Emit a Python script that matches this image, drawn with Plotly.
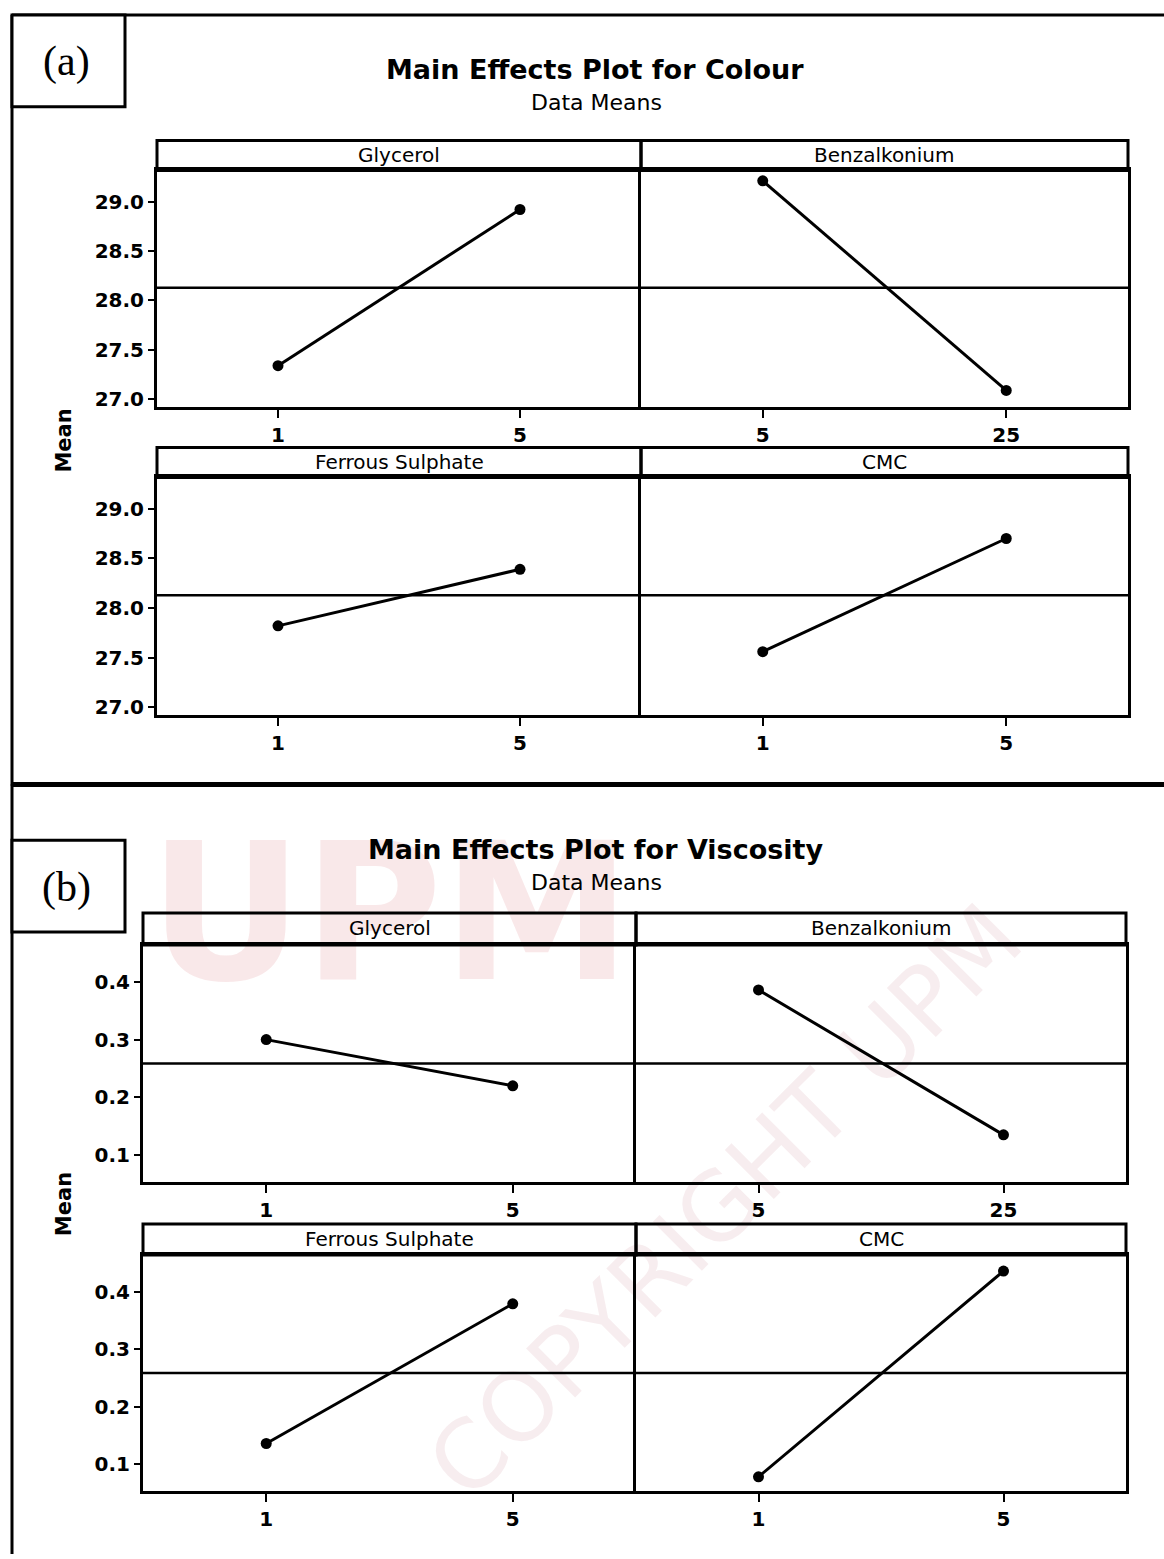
import plotly.graph_objects as go

W, H = 1164, 1559

# ---------------- data ----------------
factors = ["Glycerol", "Benzalkonium", "Ferrous Sulphate", "CMC"]
factor_levels = [["1", "5"], ["5", "25"], ["1", "5"], ["1", "5"]]
colour_means = [[27.34, 28.92], [29.21, 27.09], [27.82, 28.39], [27.56, 28.70]]
viscosity_means = [[0.300, 0.220], [0.386, 0.135], [0.136, 0.379], [0.078, 0.436]]
colour_ticks = [27.0, 27.5, 28.0, 28.5, 29.0]
viscosity_ticks = [0.1, 0.2, 0.3, 0.4]


def px(x):
    return x / W


def py(y):
    return 1 - y / H


fig = go.Figure()
shapes = []
annotations = []

panels = [
    dict(title="Main Effects Plot for Colour", means=colour_means, ticks=colour_ticks,
         fmt=".1f", yr=[26.925, 29.315], cols=[(157, 641), (641, 1128)],
         rows=[(141, 171, 408), (449, 479, 717)], title_y=70, sub_y=103, mean_y=442),
    dict(title="Main Effects Plot for Viscosity", means=viscosity_means, ticks=viscosity_ticks,
         fmt=".1f", yr=[0.053, 0.464], cols=[(143, 636), (636, 1126)],
         rows=[(916, 948, 1186), (1228, 1259, 1496)], title_y=852, sub_y=885, mean_y=1208),
]

tick_font = dict(family="DejaVu Sans", size=20, color="black", weight="bold")
strip_font = dict(family="DejaVu Sans", size=20, color="black")

k = 0
for p in panels:
    all_means = [v for pair in p["means"] for v in pair]
    grand = sum(all_means) / len(all_means)
    for i, fac in enumerate(factors):
        r, c = divmod(i, 2)
        x0, x1 = p["cols"][c]
        s0, t0, b0 = p["rows"][r]
        k += 1
        xa = "x" if k == 1 else f"x{k}"
        ya = "y" if k == 1 else f"y{k}"
        fig.add_trace(go.Scatter(
            x=[0, 1], y=p["means"][i], mode="lines+markers",
            line=dict(color="black", width=3),
            marker=dict(color="black", size=11),
            xaxis=xa, yaxis=ya, showlegend=False, hoverinfo="x+y"))
        lay_x = "xaxis" if k == 1 else f"xaxis{k}"
        lay_y = "yaxis" if k == 1 else f"yaxis{k}"
        fig.layout[lay_x] = dict(
            domain=[px(x0), px(x1)], anchor=ya, range=[-0.5, 1.5],
            tickvals=[0, 1], ticktext=factor_levels[i], ticks="outside",
            ticklen=8, tickwidth=2, tickcolor="black", tickfont=tick_font,
            showline=True, mirror=True, linecolor="black", linewidth=3,
            showgrid=False, zeroline=False, fixedrange=True)
        fig.layout[lay_y] = dict(
            domain=[py(b0), py(t0)], anchor=xa, range=p["yr"],
            tickvals=p["ticks"], tickformat=p["fmt"],
            ticks="outside" if c == 0 else "", ticklen=6, tickwidth=2, tickcolor="black",
            showticklabels=(c == 0), tickfont=tick_font,
            showline=True, mirror=(c == 1), linecolor="black", linewidth=3,
            showgrid=False, zeroline=False, fixedrange=True)
        # reference (grand mean) line
        shapes.append(dict(type="line", xref=f"{xa} domain", yref=ya, x0=0, x1=1,
                           y0=grand, y1=grand, line=dict(color="black", width=2.5)))
        # strip header
        shapes.append(dict(type="rect", xref="paper", yref="paper",
                           x0=px(x0), x1=px(x1), y0=py(t0), y1=py(s0),
                           line=dict(color="black", width=3), fillcolor="rgba(0,0,0,0)"))
        annotations.append(dict(text=fac, xref="paper", yref="paper",
                                x=px((x0 + x1) / 2), y=py((s0 + t0) / 2 - 1),
                                xanchor="center", yanchor="middle", showarrow=False,
                                font=strip_font))
    annotations.append(dict(text=p["title"], xref="paper", yref="paper", x=px(595),
                            y=py(p["title_y"]), xanchor="center", yanchor="middle",
                            showarrow=False,
                            font=dict(family="DejaVu Sans", size=27, color="black", weight="bold")))
    annotations.append(dict(text="Data Means", xref="paper", yref="paper", x=px(596),
                            y=py(p["sub_y"]), xanchor="center", yanchor="middle",
                            showarrow=False,
                            font=dict(family="DejaVu Sans", size=22, color="black")))
    annotations.append(dict(text="Mean", xref="paper", yref="paper", x=px(64),
                            y=py(p["mean_y"]), xanchor="center", yanchor="middle",
                            textangle=-90, showarrow=False,
                            font=dict(family="DejaVu Sans", size=21, color="black", weight="bold")))

# panel frames and label boxes
frame = dict(color="black", width=3)
shapes += [
    dict(type="line", xref="paper", yref="paper", x0=px(12), x1=px(1164), y0=py(15), y1=py(15), line=frame),
    dict(type="line", xref="paper", yref="paper", x0=px(12), x1=px(12), y0=py(15), y1=py(788), line=frame),
    dict(type="line", xref="paper", yref="paper", x0=px(12), x1=px(1164), y0=py(787), y1=py(787),
         line=dict(color="black", width=5)),
    dict(type="line", xref="paper", yref="paper", x0=px(12), x1=px(12), y0=py(787), y1=py(1559), line=frame),
    dict(type="rect", xref="paper", yref="paper", x0=px(12), x1=px(125), y0=py(107), y1=py(15),
         line=frame, fillcolor="white"),
    dict(type="rect", xref="paper", yref="paper", x0=px(12), x1=px(125), y0=py(935), y1=py(843),
         line=frame, fillcolor="white"),
]
annotations += [
    dict(text="(a)", xref="paper", yref="paper", x=px(66), y=py(62), xanchor="center", yanchor="middle",
         showarrow=False, font=dict(family="Liberation Serif", size=42, color="black")),
    dict(text="(b)", xref="paper", yref="paper", x=px(66), y=py(890), xanchor="center", yanchor="middle",
         showarrow=False, font=dict(family="Liberation Serif", size=42, color="black")),
]

# faint watermark (drawn below the plots)
shapes += [
    dict(type="rect", xref="paper", yref="paper", x0=px(160), x1=px(620), y0=py(985), y1=py(820),
         line=dict(width=0), fillcolor="rgba(0,0,0,0)", layer="below",
         label=dict(text="UPM", font=dict(family="DejaVu Sans", size=190, color="rgba(215,90,100,0.14)",
                                         weight="bold"))),
    dict(type="rect", xref="paper", yref="paper", x0=px(400), x1=px(1040), y0=py(1520), y1=py(880),
         line=dict(width=0), fillcolor="rgba(0,0,0,0)", layer="below",
         label=dict(text="COPYRIGHT UPM", textangle=-45,
                    font=dict(family="DejaVu Sans", size=95, color="rgba(190,110,120,0.12)"))),
]

fig.update_layout(
    width=W, height=H, margin=dict(l=0, r=0, t=0, b=0),
    paper_bgcolor="white", plot_bgcolor="rgba(0,0,0,0)",
    shapes=shapes, annotations=annotations, showlegend=False,
)

fig.write_html("out.html", config={"displayModeBar": False},
               post_script="document.body.style.margin='0';document.documentElement.style.overflow='hidden';")
